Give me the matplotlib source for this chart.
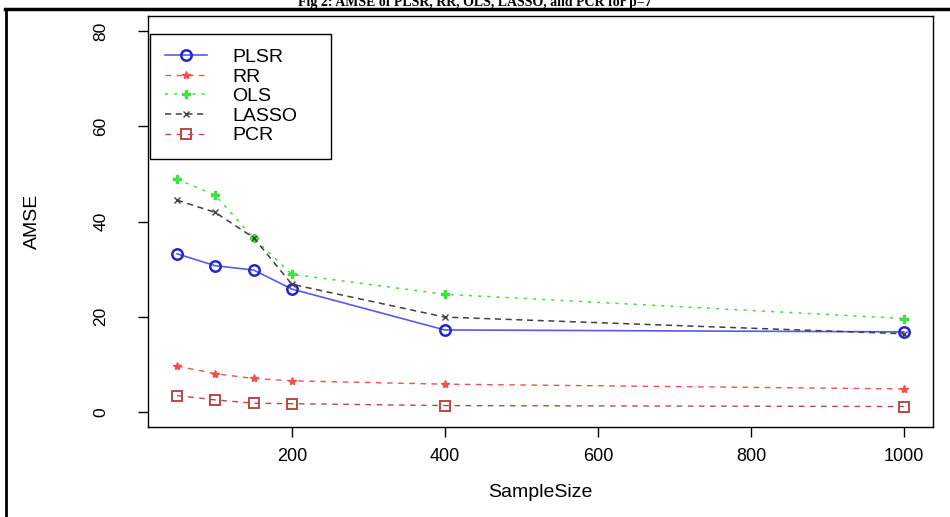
import matplotlib
matplotlib.use('Agg')
import matplotlib.pyplot as plt
from matplotlib.lines import Line2D

plt.rcParams['font.family'] = ['Liberation Sans', 'DejaVu Sans']

# Данные
sample_size = [50, 100, 150, 200, 400, 1000]
plsr = [33.2, 30.7, 29.8, 25.8, 17.2, 16.8]
rr = [9.6, 8.0, 7.0, 6.5, 5.8, 4.8]
ols = [48.9, 45.5, 36.5, 28.9, 24.7, 19.6]
lasso = [44.5, 41.9, 36.6, 26.8, 19.9, 16.4]
pcr = [3.4, 2.5, 1.8, 1.7, 1.3, 1.1]

x_ticks = [200, 400, 600, 800, 1000]
y_ticks = [0, 20, 40, 60, 80]

fig = plt.figure(figsize=(9.5, 5.17), dpi=100)
ax = fig.add_axes([148/950, 1-427/517, (933-148)/950, (427-16)/517])

ax.plot(sample_size, plsr, color='#5a5ae6', linestyle='-', linewidth=1.2,
        marker='o', markersize=7.5, markerfacecolor='none', markeredgewidth=1.8,
        markeredgecolor='#2424d0', label='PLSR')
ax.plot(sample_size, rr, color='#f05050', linestyle=(0, (4, 4)), linewidth=1.0,
        marker='*', markersize=6, label='RR')
ax.plot(sample_size, ols, color='#40e040', linestyle=(0, (2, 4)), linewidth=1.1,
        marker='P', markersize=6, label='OLS')
ax.plot(sample_size, lasso, color='#404040', linestyle=(0, (4, 3)), linewidth=1.1,
        marker='x', markersize=4, label='LASSO')
ax.plot(sample_size, pcr, color='#b84848', linestyle=(0, (4, 4)), linewidth=1.0,
        marker='s', markersize=7, markerfacecolor='none', markeredgewidth=1.4,
        label='PCR')

ax.set_xlim(12, 1038)
ax.set_ylim(-3.2, 83.2)
ax.set_xticks(x_ticks)
ax.set_yticks(y_ticks)
ax.tick_params(direction='out', length=7.5, width=1.0, labelsize=13)
ax.tick_params(axis='x', pad=7.5)
ax.tick_params(axis='y', pad=21, labelsize=12.5)
plt.setp(ax.get_yticklabels(), rotation=90, va='center')
for s in ax.spines.values():
    s.set_linewidth(1.0)

ax.set_xlabel('SampleSize', fontsize=14, labelpad=14)
ax.set_ylabel('AMSE', fontsize=14, labelpad=38)

leg = ax.legend(loc='upper left', bbox_to_anchor=(0.0025, 0.5, 0.2306, 1 - 18/411 - 0.5),
                mode='expand', fontsize=14, frameon=True, fancybox=False,
                edgecolor='black', framealpha=1, borderaxespad=0,
                handlelength=2.2, handletextpad=1.3, labelspacing=0.1, borderpad=0.75)
leg.get_frame().set_linewidth(1.0)

# Рамка вокруг рисунка и обрезанная подпись сверху
fig.add_artist(Line2D([5/950, 1], [1-9/517, 1-9/517], color='black', linewidth=2.5))
fig.add_artist(Line2D([6/950, 6/950], [0, 1-9/517], color='black', linewidth=2.0))
fig.text(0.5, 1-6/517, 'Fig 2: AMSE of PLSR, RR, OLS, LASSO, and PCR for p=7',
         ha='center', va='baseline', fontsize=10, fontweight='bold',
         family=['Liberation Serif', 'DejaVu Serif'])

plt.savefig('out.png', dpi=100)
